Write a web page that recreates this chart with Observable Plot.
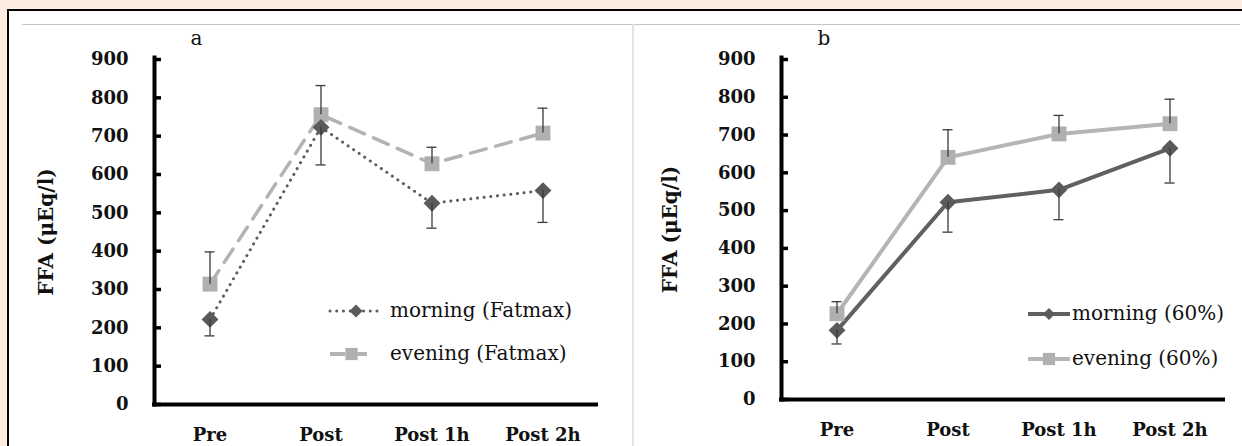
<!DOCTYPE html>
<html>
<head>
<meta charset="utf-8">
<script src="https://cdn.jsdelivr.net/npm/d3@7"></script>
<script src="https://cdn.jsdelivr.net/npm/@observablehq/plot@0.6"></script>
<style>
  html, body { margin: 0; padding: 0; background: #fdece2; }
  #page { position: relative; width: 1242px; height: 446px; overflow: hidden; background: #fdece2; font-family: "DejaVu Serif", serif; }
  #sheet { position: absolute; left: 7px; top: 9px; width: 1240px; height: 440px; background: #fff; border-top: 2px solid #000; border-left: 2px solid #000; }
  #hline { position: absolute; left: 22px; top: 24px; width: 1218px; height: 1px; background: #c4c4c4; }
  #vline { position: absolute; left: 632px; top: 24px; width: 2px; height: 430px; background: #e4e4e4; }
  .panel { position: absolute; top: 0; }
  .legend { position: absolute; left: 0; top: 0; }
  .legend text { font-family: "DejaVu Serif", serif; font-size: 20px; fill: #111; }
</style>
</head>
<body>
<div id="page">
  <div id="sheet"></div>
  <div id="hline"></div>
  <div id="vline"></div>
  <div id="pa" class="panel" style="left:0px"></div>
  <div id="pb" class="panel" style="left:632px"></div>
  <svg class="legend" id="leg" width="1242" height="446"></svg>
</div>
<script>
// ---------- data ----------
const times = ["Pre", "Post", "Post 1h", "Post 2h"];
const yTicks = [0, 100, 200, 300, 400, 500, 600, 700, 800, 900];
const yLabel = "FFA (μEq/l)";

// panel a (Fatmax)
const morningFatmax = [222, 723, 525, 558];
const morningFatmaxSD = [43, 98, 65, 83];
const eveningFatmax = [314, 756, 628, 708];
const eveningFatmaxSD = [84, 76, 43, 65];

// panel b (60%)
const morning60 = [183, 522, 555, 665];
const morning60SD = [36, 79, 79, 92];
const evening60 = [227, 641, 703, 730];
const evening60SD = [32, 73, 49, 65];

const legendA = ["morning (Fatmax)", "evening (Fatmax)"];
const legendB = ["morning (60%)", "evening (60%)"];

// ---------- build ----------
function rows(values, sds, dir) {
  return times.map((t, i) => ({time: t, value: values[i], sd: sds[i], end: values[i] + dir * sds[i]}));
}

function panel({letter, width, mL, mR, mT, mB, morning, evening, mStyle, eStyle, labelOffset}) {
  const frameW = width - mL - mR;
  const bw = frameW / times.length;
  const capHalf = 5;
  return Plot.plot({
    width, height: 446,
    marginLeft: mL, marginRight: mR, marginTop: mT, marginBottom: mB,
    style: {background: "transparent", fontFamily: "DejaVu Serif", overflow: "visible", color: "#111"},
    x: {type: "band", domain: times, padding: 0, label: null},
    y: {domain: [0, 900], label: null},
    marks: [
      Plot.axisY({ticks: yTicks, tickSize: 0, tickPadding: 26, fontSize: 18, fontWeight: "bold", label: null}),
      Plot.axisX({tickSize: 0, tickPadding: 24, fontSize: 18, fontWeight: "bold", label: null}),
      Plot.text([yLabel], {frameAnchor: "left", textAnchor: "middle", dx: -labelOffset, rotate: -90, fontSize: 20, fontWeight: "bold", fill: "#111"}),
      Plot.text([letter], {frameAnchor: "top-left", dx: 36, dy: -29, fontSize: 20, fill: "#111"}),
      Plot.tickY(yTicks, {y: d => d, insetRight: frameW - 7, stroke: "#000", strokeWidth: 3.5}),
      Plot.frame({anchor: "left", stroke: "#000", strokeWidth: 4, insetTop: -2}),
      Plot.ruleY([0], {stroke: "#000", strokeWidth: 4, insetLeft: -2}),
      Plot.line(evening, {x: "time", y: "value", ...eStyle.line}),
      Plot.line(morning, {x: "time", y: "value", ...mStyle.line}),
      Plot.dot(evening, {x: "time", y: "value", symbol: "square", r: eStyle.r, fill: eStyle.fill, stroke: "none"}),
      Plot.dot(morning, {x: "time", y: "value", symbol: "diamond2", r: mStyle.r, fill: mStyle.fill, stroke: "none"}),
      Plot.ruleX([...morning, ...evening], {x: "time", y1: "value", y2: "end", stroke: "#3a3a3a", strokeWidth: 1.3}),
      Plot.tickY([...morning, ...evening], {x: "time", y: "end", insetLeft: bw / 2 - capHalf, insetRight: bw / 2 - capHalf, stroke: "#3a3a3a", strokeWidth: 1.3})
    ]
  });
}

const chartA = panel({
  letter: "a", width: 632, mL: 154, mR: 34, mT: 59, mB: 42, labelOffset: 108,
  morning: rows(morningFatmax, morningFatmaxSD, -1),
  evening: rows(eveningFatmax, eveningFatmaxSD, +1),
  mStyle: {r: 7.6, fill: "#5a5a5a", line: {stroke: "#5e5e5e", strokeWidth: 3, strokeDasharray: "0.1 6.6", strokeLinecap: "round"}},
  eStyle: {r: 8.4, fill: "#b0b0b0", line: {stroke: "#b3b3b3", strokeWidth: 3.5, strokeDasharray: "16 10"}}
});
document.getElementById("pa").appendChild(chartA);

const chartB = panel({
  letter: "b", width: 610, mL: 149, mR: 17, mT: 59, mB: 47, labelOffset: 111,
  morning: rows(morning60, morning60SD, -1),
  evening: rows(evening60, evening60SD, +1),
  mStyle: {r: 7.6, fill: "#5a5a5a", line: {stroke: "#606060", strokeWidth: 4}},
  eStyle: {r: 8.4, fill: "#b0b0b0", line: {stroke: "#b5b5b5", strokeWidth: 4}}
});
document.getElementById("pb").appendChild(chartB);

// ---------- legends ----------
const leg = d3.select("#leg");
function legendItem(x0, x1, y, textX, label, lineAttrs, symbolType, size, fill) {
  const g = leg.append("g");
  const l = g.append("line").attr("x1", x0).attr("x2", x1).attr("y1", y).attr("y2", y);
  Object.entries(lineAttrs).forEach(([k, v]) => l.attr(k, v));
  g.append("path")
    .attr("d", d3.symbol(symbolType, size)())
    .attr("transform", `translate(${(x0 + x1) / 2},${y})`)
    .attr("fill", fill);
  g.append("text").attr("x", textX).attr("y", y).attr("dy", "0.32em")
    .style("font-family", "'DejaVu Serif', serif").style("font-size", "20px")
    .text(label);
}
legendItem(330, 382, 311, 390, legendA[0],
  {stroke: "#5e5e5e", "stroke-width": 3, "stroke-dasharray": "0.1 6.6", "stroke-linecap": "round"},
  d3.symbolDiamond2, 110, "#5a5a5a");
legendItem(330, 373, 354, 390, legendA[1],
  {stroke: "#b3b3b3", "stroke-width": 4, "stroke-dasharray": "15 7"},
  d3.symbolSquare, 150, "#b0b0b0");
legendItem(1028, 1070, 314, 1072, legendB[0],
  {stroke: "#606060", "stroke-width": 4},
  d3.symbolDiamond2, 90, "#5a5a5a");
legendItem(1028, 1070, 359, 1072, legendB[1],
  {stroke: "#b5b5b5", "stroke-width": 4},
  d3.symbolSquare, 150, "#b0b0b0");
</script>
</body>
</html>
